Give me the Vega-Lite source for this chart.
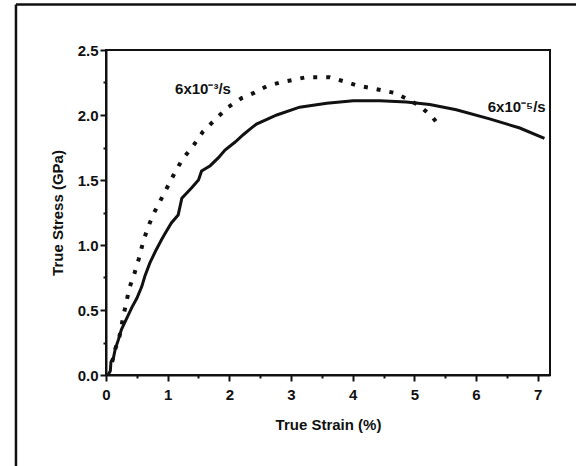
{
  "$schema": "https://vega.github.io/schema/vega-lite/v6.json",
  "width": 444,
  "height": 325,
  "autosize": "none",
  "padding": {"left": 106, "top": 50, "right": 26, "bottom": 91},
  "background": "white",
  "config": {
    "view": {"stroke": "#111", "strokeWidth": 2},
    "font": "Liberation Sans",
    "axis": {
      "grid": false,
      "domainColor": "#111",
      "domainWidth": 2,
      "tickColor": "#111",
      "tickWidth": 2,
      "labelFont": "Liberation Sans",
      "labelFontSize": 15,
      "labelFontWeight": "bold",
      "labelColor": "#111",
      "titleFont": "Liberation Sans",
      "titleFontSize": 15,
      "titleFontWeight": "bold",
      "titleColor": "#111",
      "labelFlush": false,
      "labelOverlap": false
    }
  },
  "datasets": {
    "slow": [
      {"strain": 0.03, "stress": 0.0}, {"strain": 0.07, "stress": 0.03}, {"strain": 0.08, "stress": 0.1},
      {"strain": 0.12, "stress": 0.13}, {"strain": 0.15, "stress": 0.2}, {"strain": 0.2, "stress": 0.27},
      {"strain": 0.25, "stress": 0.35}, {"strain": 0.33, "stress": 0.43}, {"strain": 0.42, "stress": 0.52},
      {"strain": 0.5, "stress": 0.59}, {"strain": 0.58, "stress": 0.68}, {"strain": 0.63, "stress": 0.76},
      {"strain": 0.71, "stress": 0.86}, {"strain": 0.8, "stress": 0.95}, {"strain": 0.9, "stress": 1.04},
      {"strain": 0.96, "stress": 1.09}, {"strain": 1.06, "stress": 1.17}, {"strain": 1.17, "stress": 1.23},
      {"strain": 1.23, "stress": 1.36}, {"strain": 1.39, "stress": 1.44}, {"strain": 1.5, "stress": 1.5},
      {"strain": 1.55, "stress": 1.57}, {"strain": 1.69, "stress": 1.61}, {"strain": 1.82, "stress": 1.67},
      {"strain": 1.93, "stress": 1.73}, {"strain": 2.09, "stress": 1.79}, {"strain": 2.23, "stress": 1.85},
      {"strain": 2.33, "stress": 1.89}, {"strain": 2.44, "stress": 1.93}, {"strain": 2.77, "stress": 2.0},
      {"strain": 3.14, "stress": 2.06}, {"strain": 3.58, "stress": 2.09}, {"strain": 4.01, "stress": 2.11},
      {"strain": 4.44, "stress": 2.11}, {"strain": 4.87, "stress": 2.1}, {"strain": 5.25, "stress": 2.08},
      {"strain": 5.68, "stress": 2.04}, {"strain": 6.22, "stress": 1.97}, {"strain": 6.71, "stress": 1.9},
      {"strain": 7.11, "stress": 1.82}
    ],
    "fast": [
      {"strain": 0.1, "stress": 0.1}, {"strain": 0.15, "stress": 0.2}, {"strain": 0.22, "stress": 0.3},
      {"strain": 0.28, "stress": 0.45}, {"strain": 0.33, "stress": 0.56}, {"strain": 0.38, "stress": 0.67},
      {"strain": 0.46, "stress": 0.78}, {"strain": 0.53, "stress": 0.89}, {"strain": 0.59, "stress": 1.0},
      {"strain": 0.66, "stress": 1.11}, {"strain": 0.76, "stress": 1.23}, {"strain": 0.88, "stress": 1.34},
      {"strain": 1.0, "stress": 1.45}, {"strain": 1.12, "stress": 1.56}, {"strain": 1.24, "stress": 1.66},
      {"strain": 1.41, "stress": 1.76}, {"strain": 1.57, "stress": 1.87}, {"strain": 1.78, "stress": 1.97},
      {"strain": 1.98, "stress": 2.06}, {"strain": 2.2, "stress": 2.13}, {"strain": 2.4, "stress": 2.17},
      {"strain": 2.6, "stress": 2.22}, {"strain": 2.82, "stress": 2.25}, {"strain": 3.03, "stress": 2.27},
      {"strain": 3.24, "stress": 2.29}, {"strain": 3.44, "stress": 2.29}, {"strain": 3.63, "stress": 2.29},
      {"strain": 3.85, "stress": 2.26}, {"strain": 4.05, "stress": 2.23}, {"strain": 4.27, "stress": 2.21},
      {"strain": 4.47, "stress": 2.19}, {"strain": 4.68, "stress": 2.17}, {"strain": 4.9, "stress": 2.12},
      {"strain": 5.09, "stress": 2.07}, {"strain": 5.3, "stress": 1.98}, {"strain": 5.35, "stress": 1.95}
    ],
    "labels": [
      {"strain": 1.12, "stress": 2.16, "text": "6x10⁻³/s", "side": "left"},
      {"strain": 7.13, "stress": 2.02, "text": "6x10⁻⁵/s", "side": "right"}
    ]
  },
  "layer": [
    {
      "data": {"name": "slow"},
      "mark": {"type": "line", "color": "#111", "strokeWidth": 3},
      "encoding": {
        "x": {"field": "strain", "type": "quantitative",
              "scale": {"domain": [0, 7.2], "nice": false, "zero": false},
              "axis": {"values": [0, 1, 2, 3, 4, 5, 6, 7], "tickSize": 6, "labelPadding": 6, "title": "True Strain (%)", "titlePadding": 15, "orient": "bottom"}},
        "y": {"field": "stress", "type": "quantitative",
              "scale": {"domain": [0, 2.5], "nice": false},
              "axis": {"values": [0, 0.5, 1, 1.5, 2, 2.5], "format": ".1f", "tickSize": 6, "labelPadding": 2, "title": "True Stress (GPa)", "titlePadding": 12, "orient": "left"}}
      }
    },
    {
      "data": {"name": "fast"},
      "mark": {"type": "line", "color": "#111", "strokeWidth": 4, "strokeDash": [4, 9], "strokeCap": "butt"},
      "encoding": {
        "x": {"field": "strain", "type": "quantitative",
              "scale": {"domain": [0, 7.2], "nice": false, "zero": false},
              "axis": {"values": [0.5, 1.5, 2.5, 3.5, 4.5, 5.5, 6.5], "tickSize": 3, "labels": false, "title": null, "domain": false, "orient": "bottom"}},
        "y": {"field": "stress", "type": "quantitative",
              "scale": {"domain": [0, 2.5], "nice": false},
              "axis": {"values": [0.25, 0.75, 1.25, 1.75, 2.25], "tickSize": 3, "labels": false, "title": null, "domain": false, "orient": "left"}}
      }
    },
    {
      "data": {"name": "labels"},
      "transform": [{"filter": "datum.side == 'left'"}],
      "mark": {"type": "text", "align": "left", "baseline": "alphabetic", "fontSize": 15, "fontWeight": "bold", "font": "Liberation Sans", "color": "#111"},
      "encoding": {
        "x": {"field": "strain", "type": "quantitative", "scale": {"domain": [0, 7.2], "nice": false, "zero": false}, "axis": null},
        "y": {"field": "stress", "type": "quantitative", "scale": {"domain": [0, 2.5], "nice": false}, "axis": null},
        "text": {"field": "text"}
      }
    },
    {
      "data": {"name": "labels"},
      "transform": [{"filter": "datum.side == 'right'"}],
      "mark": {"type": "text", "align": "right", "baseline": "alphabetic", "fontSize": 15, "fontWeight": "bold", "font": "Liberation Sans", "color": "#111"},
      "encoding": {
        "x": {"field": "strain", "type": "quantitative", "scale": {"domain": [0, 7.2], "nice": false, "zero": false}, "axis": null},
        "y": {"field": "stress", "type": "quantitative", "scale": {"domain": [0, 2.5], "nice": false}, "axis": null},
        "text": {"field": "text"}
      }
    },
    {
      "data": {"values": [{"frame": "left"}]},
      "mark": {"type": "rule", "color": "#111", "strokeWidth": 2.5, "clip": false},
      "encoding": {
        "x": {"datum": -1.46, "type": "quantitative", "scale": {"domain": [0, 7.2], "nice": false, "zero": false}, "axis": null},
        "y": {"datum": -0.8, "type": "quantitative", "scale": {"domain": [0, 2.5], "nice": false}, "axis": null},
        "y2": {"datum": 2.85}
      }
    },
    {
      "data": {"values": [{"frame": "top"}]},
      "mark": {"type": "rule", "color": "#111", "strokeWidth": 2.5, "clip": false},
      "encoding": {
        "x": {"datum": -1.46, "type": "quantitative", "scale": {"domain": [0, 7.2], "nice": false, "zero": false}, "axis": null},
        "x2": {"datum": 7.8},
        "y": {"datum": 2.85, "type": "quantitative", "scale": {"domain": [0, 2.5], "nice": false}, "axis": null}
      }
    }
  ],
  "resolve": {"axis": {"x": "independent", "y": "independent"}}
}
